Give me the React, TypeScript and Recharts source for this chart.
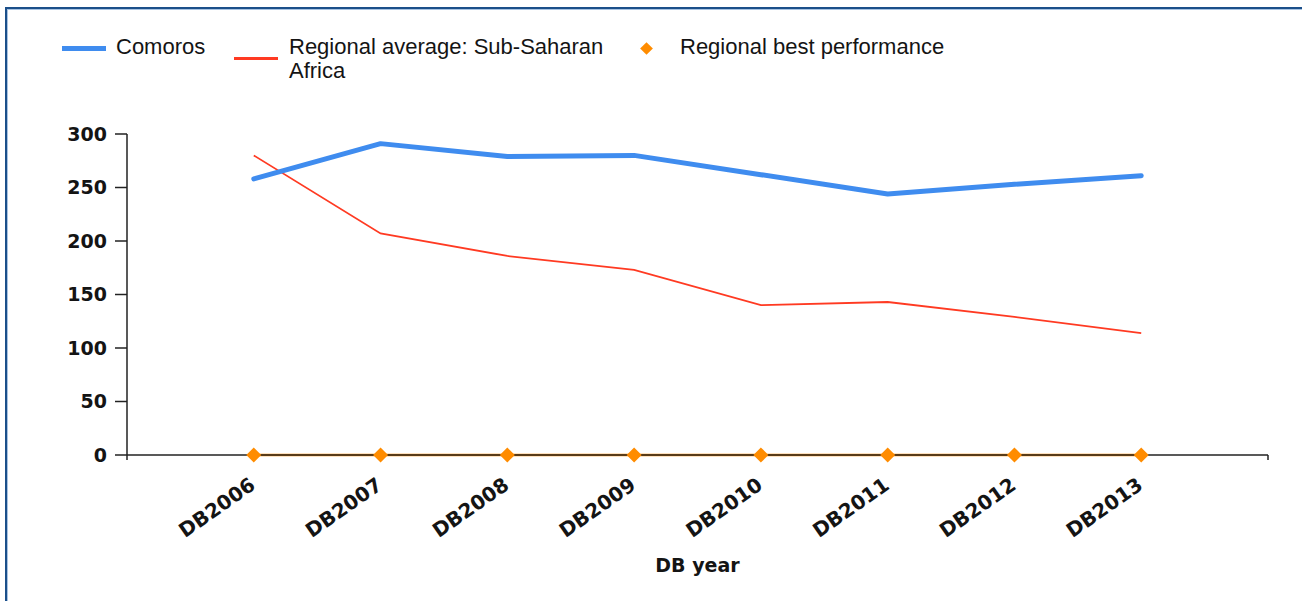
import { LineChart, Line, XAxis, YAxis, Label } from 'recharts';

const categories = ['DB2006', 'DB2007', 'DB2008', 'DB2009', 'DB2010', 'DB2011', 'DB2012', 'DB2013'];
const comoros = [258, 291, 279, 280, 262, 244, 253, 261];
const regionalAverage = [280, 207, 186, 173, 140, 143, 129, 114];
const regionalBest = [0, 0, 0, 0, 0, 0, 0, 0];
const yTicks = [0, 50, 100, 150, 200, 250, 300];

const BLUE = '#3f8cef';
const RED = '#ff3a22';
const ORANGE = '#ff8c00';
const AXIS = '#222';
const FRAME = '#1b4f8a';
const tickFont = { fontFamily: '"DejaVu Sans", Verdana, sans-serif', fontWeight: 700, fontSize: 19, fill: '#141414' };
const xTickFont = { ...tickFont, fontSize: 20 };
const legendFont = { fontFamily: '"Liberation Sans", Arial, sans-serif', fontSize: 22, lineHeight: '24px', color: '#141414' };

// x positions run 1..n, with empty slots at 0 and n+1 like the original axis
const data = categories.map((c, i) => ({
  pos: i + 1,
  category: c,
  comoros: comoros[i],
  average: regionalAverage[i],
  best: regionalBest[i],
}));
const xTicks = Array.from({ length: categories.length + 2 }, (_, i) => i);

const XTick = (props: any) => {
  const { x, y, payload } = props;
  const label = categories[payload.value - 1];
  if (!label) return null;
  return (
    <g transform={`translate(${x + 3},${y + 26})`}>
      <text x={0} y={0} textAnchor="end" transform="rotate(-35)" style={xTickFont}>
        {label}
      </text>
    </g>
  );
};

const Diamond = (props: any) => {
  const { cx, cy, index } = props;
  if (cx == null || cy == null) return <g key={`d-${index}`} />;
  const r = 7.5;
  return (
    <path
      key={`d-${index}`}
      d={`M${cx},${cy - r}L${cx + r},${cy}L${cx},${cy + r}L${cx - r},${cy}Z`}
      fill={ORANGE}
    />
  );
};

const ChartLegend = () => (
  <div style={{ position: 'absolute', left: 0, top: 0, ...legendFont }}>
    <div style={{ position: 'absolute', left: 62, top: 46, width: 44, height: 5, background: BLUE }} />
    <div style={{ position: 'absolute', left: 116, top: 35, whiteSpace: 'nowrap' }}>Comoros</div>
    <div style={{ position: 'absolute', left: 234, top: 57, width: 44, height: 3, background: RED }} />
    <div style={{ position: 'absolute', left: 289, top: 35, width: 330 }}>Regional average: Sub-Saharan Africa</div>
    <div
      style={{
        position: 'absolute',
        left: 642,
        top: 44,
        width: 9,
        height: 9,
        background: ORANGE,
        transform: 'rotate(45deg)',
      }}
    />
    <div style={{ position: 'absolute', left: 680, top: 35, whiteSpace: 'nowrap' }}>Regional best performance</div>
  </div>
);

export default function App() {
  return (
    <div style={{ position: 'absolute', left: 0, top: 0, width: 1302, height: 601, background: '#fff', overflow: 'hidden' }}>
      <ChartLegend />
      <div style={{ position: 'absolute', left: 0, top: 0 }}>
        <LineChart width={1302} height={601} data={data} margin={{ top: 134, right: 34, bottom: 25, left: 7 }}>
          <XAxis
            dataKey="pos"
            type="number"
            domain={[0, categories.length + 1]}
            ticks={xTicks}
            interval={0}
            height={121}
            tickSize={5}
            tickMargin={2}
            tick={<XTick />}
            axisLine={{ stroke: AXIS, strokeWidth: 1.5 }}
            tickLine={{ stroke: AXIS, strokeWidth: 1.5 }}
          >
            <Label value="DB year" position="insideBottom" offset={4} style={tickFont} />
          </XAxis>
          <YAxis
            domain={[0, 300]}
            ticks={yTicks}
            width={120}
            tickSize={12}
            tickMargin={8}
            tick={tickFont}
            axisLine={{ stroke: AXIS, strokeWidth: 1.5 }}
            tickLine={{ stroke: AXIS, strokeWidth: 1.5 }}
          />
          <Line
            type="linear"
            dataKey="best"
            name="Regional best performance"
            stroke={ORANGE}
            strokeWidth={2.5}
            dot={<Diamond />}
            activeDot={false}
            isAnimationActive={false}
          />
          <Line
            type="linear"
            dataKey="average"
            name="Regional average: Sub-Saharan Africa"
            stroke={RED}
            strokeWidth={1.8}
            dot={false}
            activeDot={false}
            isAnimationActive={false}
          />
          <Line
            type="linear"
            dataKey="comoros"
            name="Comoros"
            stroke={BLUE}
            strokeWidth={5}
            strokeLinejoin="round"
            strokeLinecap="round"
            dot={false}
            activeDot={false}
            isAnimationActive={false}
          />
        </LineChart>
      </div>
      {/* outer frame: only top and left edges show in the original */}
      <div style={{ position: 'absolute', left: 5, top: 7, width: 1302, height: 2, background: FRAME, pointerEvents: 'none' }} />
      <div style={{ position: 'absolute', left: 5, top: 7, width: 2, height: 601, background: FRAME, pointerEvents: 'none' }} />
      <div style={{ position: 'absolute', left: 7, top: 9, width: 1302, height: 1, background: '#a8c3e2', pointerEvents: 'none' }} />
      <div style={{ position: 'absolute', left: 7, top: 9, width: 1, height: 601, background: '#a8c3e2', pointerEvents: 'none' }} />
    </div>
  );
}
